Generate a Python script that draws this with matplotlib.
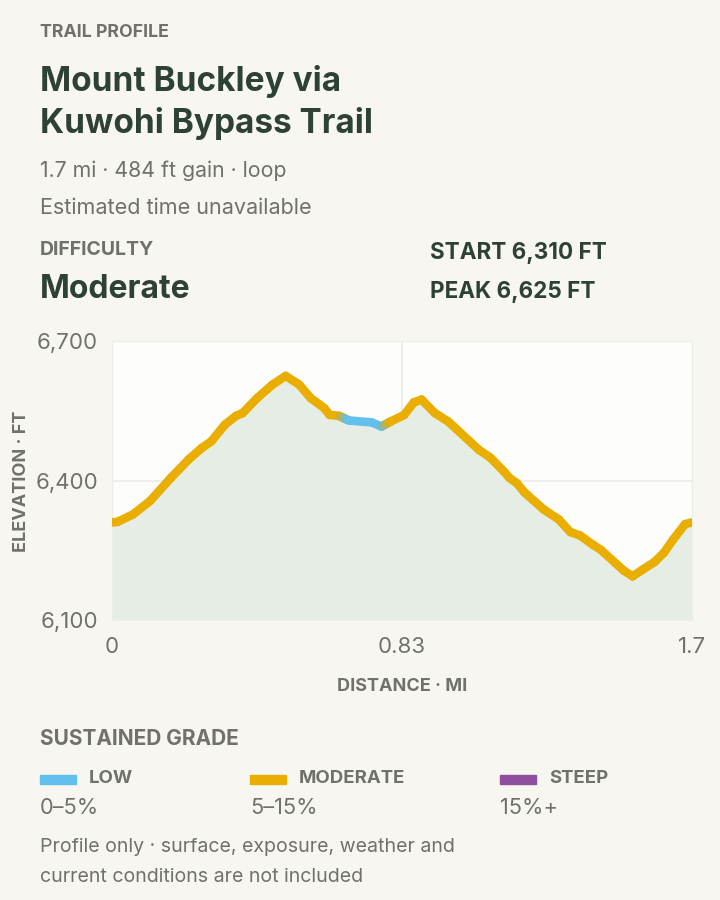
import numpy as np
import matplotlib
matplotlib.use("Agg")
import matplotlib.pyplot as plt
from matplotlib.collections import LineCollection
from matplotlib.colors import to_rgb
from matplotlib.patches import Rectangle

# profile (miles, feet)
distance_mi = [0.0, 0.016, 0.060, 0.109, 0.169, 0.219, 0.257, 0.284, 0.323, 0.355,
               0.374, 0.415, 0.459, 0.497, 0.536, 0.569, 0.607, 0.623, 0.650, 0.678,
               0.743, 0.771, 0.798, 0.836, 0.864, 0.886, 0.924, 0.962, 1.050, 1.083,
               1.121, 1.137, 1.159, 1.181, 1.235, 1.279, 1.312, 1.339, 1.378, 1.399,
               1.465, 1.490, 1.520, 1.553, 1.580, 1.607, 1.640, 1.660]
elevation_ft = [6310, 6311, 6327, 6356, 6406, 6445, 6470, 6484, 6520, 6539,
                6545, 6577, 6606, 6625, 6606, 6577, 6556, 6541, 6539, 6529,
                6525, 6516, 6527, 6541, 6568, 6574, 6545, 6527, 6466, 6449,
                6420, 6406, 6394, 6374, 6338, 6316, 6289, 6282, 6261, 6251,
                6206, 6194, 6209, 6225, 6245, 6274, 6306, 6310]
# grade class at each point
grade_class = ["moderate"] * 19 + ["low"] * 3 + ["moderate"] * 26

grade_names = ["low", "moderate", "steep"]
grade_labels = ["LOW", "MODERATE", "STEEP"]
grade_ranges = ["0–5%", "5–15%", "15%+"]
grade_colors = {"low": "#63BFEC", "moderate": "#E9AE00", "steep": "#8F4F9E"}

x_ticks = [0, 0.83, 1.66]
x_tick_labels = ["0", "0.83", "1.7"]
y_ticks = [6100, 6400, 6700]
y_tick_labels = ["6,100", "6,400", "6,700"]

BG = "#F7F6F1"
DARK = "#2E4136"
GRAY = "#6F726A"
FONT = ["Inter", "DejaVu Sans"]

plt.rcParams["font.family"] = FONT

W, H = 720, 900
fig = plt.figure(figsize=(W / 100, H / 100), dpi=100, facecolor=BG)


def fx(px):
    return px / W


def fy(py):
    return 1 - py / H


def txt(x, y, s, size, color=GRAY, weight="normal", **kw):
    fig.text(fx(x), fy(y), s, fontsize=size, color=color, fontweight=weight,
             va="baseline", ha=kw.pop("ha", "left"), **kw)


# header
txt(40, 37, "TRAIL PROFILE", 12.8, weight="bold")
txt(40, 91, "Mount Buckley via", 24, color=DARK, weight="bold")
txt(40, 133, "Kuwohi Bypass Trail", 24, color=DARK, weight="bold")
txt(40, 177, "1.7 mi · 484 ft gain · loop", 15.3)
txt(40, 214, "Estimated time unavailable", 15.5)
txt(40, 255, "DIFFICULTY", 14, weight="bold")
txt(40, 298, "Moderate", 23, color=DARK, weight="bold")
txt(430, 259, "START 6,310 FT", 16.2, color=DARK, weight="bold")
txt(430, 298, "PEAK 6,625 FT", 16.2, color=DARK, weight="bold")

# chart
left, right, top, bottom = 112, 692, 341, 620
ax = fig.add_axes([fx(left), fy(bottom), fx(right - left), (bottom - top) / H])
ax.set_facecolor("#FDFDFB")
ax.set_xlim(0, 1.66)
ax.set_ylim(6100, 6700)

ax.axhline(6400, color="#EBEBE6", lw=1.2, zorder=0)
ax.axvline(0.83, color="#EBEBE6", lw=1.2, zorder=0)

ax.fill_between(distance_mi, elevation_ft, 6100, color="#E5EDE5", lw=0, zorder=1)

# line coloured by grade, blended where the class changes
segs, cols = [], []
for i in range(len(distance_mi) - 1):
    x0, x1 = distance_mi[i], distance_mi[i + 1]
    y0, y1 = elevation_ft[i], elevation_ft[i + 1]
    c0 = np.array(to_rgb(grade_colors[grade_class[i]]))
    c1 = np.array(to_rgb(grade_colors[grade_class[i + 1]]))
    n = 1 if grade_class[i] == grade_class[i + 1] else 12
    for k in range(n):
        t0, t1 = k / n, (k + 1) / n
        segs.append([(x0 + (x1 - x0) * t0, y0 + (y1 - y0) * t0),
                     (x0 + (x1 - x0) * t1, y0 + (y1 - y0) * t1)])
        cols.append(c0 + (c1 - c0) * (t0 + t1) / 2)
lc = LineCollection(segs, colors=cols, linewidths=6.2, capstyle="round",
                    joinstyle="round", zorder=3)
ax.add_collection(lc)

ax.set_xticks(x_ticks)
ax.set_xticklabels(x_tick_labels)
ax.set_yticks(y_ticks)
ax.set_yticklabels(y_tick_labels)
ax.tick_params(length=0, labelsize=16, labelcolor=GRAY)
ax.tick_params(axis="y", pad=10)
ax.tick_params(axis="x", pad=12)
for s in ax.spines.values():
    s.set_color("#EEEEE9")
    s.set_linewidth(1)

fig.text(fx(402), fy(691), "DISTANCE · MI", fontsize=13, color=GRAY,
         fontweight="bold", ha="center", va="baseline")
fig.text(fx(22), fy(481), "ELEVATION · FT", fontsize=13, color=GRAY,
         fontweight="bold", ha="center", va="center", rotation=90)

# legend
txt(40, 745, "SUSTAINED GRADE", 15, weight="bold")
col_x = [40, 250, 500]
for name, lab, rng, cx in zip(grade_names, grade_labels, grade_ranges, col_x):
    fig.patches.append(Rectangle((fx(cx), fy(784)), fx(36), 9 / H,
                                 color=grade_colors[name], transform=fig.transFigure))
    txt(cx + 49, 783, lab, 13.4, weight="bold")
    txt(cx, 814, rng, 15.7)

txt(40, 852, "Profile only · surface, exposure, weather and", 14.1)
txt(40, 882, "current conditions are not included", 14.1)

fig.savefig("out.png", dpi=100, facecolor=BG)
